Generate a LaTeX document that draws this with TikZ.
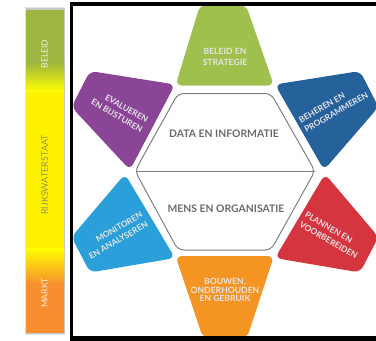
\documentclass[tikz,border=0pt]{standalone}
\usepackage{fontspec}
\setmainfont{Lato}
\definecolor{cgreen}{HTML}{A0C04E}
\definecolor{cpurple}{HTML}{8B4596}
\definecolor{cdarkblue}{HTML}{25619B}
\definecolor{clightblue}{HTML}{2A9FD9}
\definecolor{cred}{HTML}{D4353F}
\definecolor{corange}{HTML}{F39423}
\definecolor{barolive}{HTML}{9DB63F}
\definecolor{barorange}{HTML}{F78F2E}
\definecolor{hexline}{HTML}{808080}
\definecolor{hextext}{HTML}{6A6A6A}
\tikzset{
  petal/.style={rounded corners=6.5pt},
  petaltext/.style={text=white!90!black,inner sep=0pt},
  rottext/.style={petaltext,font=\fontsize{8.4}{11}\selectfont\bfseries},
  hexlabel/.style={text=hextext,font=\fontsize{10.4}{12}\selectfont\bfseries,inner sep=0pt},
  barlabel/.style={rotate=90,font=\fontsize{8.6}{10}\selectfont,inner sep=0pt},
}
\begin{document}
\begin{tikzpicture}[x=1pt,y=-1pt]
\useasboundingbox (0,0) rectangle (376,341);
\clip (0,0) rectangle (376,341);
% bar shadow
\fill[black!10] (25,7) rectangle (65,335);
\fill[black!22] (25.5,8) rectangle (64.5,334);
% colour bar
\fill[barolive] (26,10) rectangle (64,62);
\shade[top color=barolive,bottom color=yellow] (26,62) rectangle (64,92);
\fill[yellow] (26,92) rectangle (64,248);
\shade[top color=yellow,bottom color=barorange] (26,248) rectangle (64,284);
\fill[barorange] (26,284) rectangle (64,333);
\node[barlabel,text=white!85!barolive] (beleid) at (44.5,54) {BELEID};
\node[barlabel,font=\fontsize{9}{10}\selectfont,text=black!45!yellow!70!gray] (rws) at (44.7,175) {RIJKSWATERSTAAT};
\node[barlabel,text=white!85!barorange] (markt) at (44.5,293) {MARKT};
% petals
\fill[cgreen,petal] (200,5) -- (246,5) -- (274,85.5) -- (175.5,85.5) -- cycle;
\fill[corange,petal] (175.5,256) -- (274,256) -- (247,338) -- (203,338) -- cycle;
\fill[cpurple,petal] (90,71) -- (175,84.5) -- (130,170) -- (71.5,107) -- cycle;
\fill[cdarkblue,petal] (275,84.5) -- (360,71) -- (378.5,107) -- (324,170) -- cycle;
\fill[clightblue,petal] (125,174) -- (175,258) -- (90,272.5) -- (71.5,237) -- cycle;
\fill[cred,petal] (325,174) -- (275,258) -- (360,272.5) -- (378.5,237) -- cycle;
% black frame
\fill[black] (70,2) rectangle (376,6);
\fill[black] (70,2) rectangle (73,341);
\fill[black] (70,336) rectangle (376,341);
% hexagon
\draw[hexline,line width=1pt,rounded corners=6pt] (178,93.5) -- (271,93.5) -- (315,171) -- (271,250) -- (178,250) -- (135,171) -- cycle;
\draw[hexline,line width=1pt] (135.5,171) -- (314.5,171);
% labels
\node[hexlabel] (data) at (224,134) {DATA EN INFORMATIE};
\node[hexlabel] (mens) at (226,209) {MENS EN ORGANISATIE};
\node[petaltext,font=\fontsize{8.6}{10.4}\selectfont\bfseries,align=center] (p1) at (225,57) {BELEID EN\\STRATEGIE};
\node[rottext,align=left,rotate=30] (p2) at (333.5,107.5) {BEHEREN EN\\PROGRAMMEREN};
\node[rottext,align=left,rotate=-30] (p3) at (331.4,235.5) {PLANNEN EN\\VOORBEREIDEN};
\node[petaltext,font=\fontsize{8.6}{8.4}\selectfont\bfseries,align=center] (p4) at (225,290) {BOUWEN,\\ONDERHOUDEN\\EN GEBRUIK};
\node[rottext,align=right,rotate=30] (p5) at (115.6,235.5) {MONITOREN\\EN ANALYSEREN};
\node[rottext,align=right,rotate=-30] (p6) at (119.7,110.9) {EVALUEREN\\EN BIJSTUREN};
\end{tikzpicture}
\end{document}
